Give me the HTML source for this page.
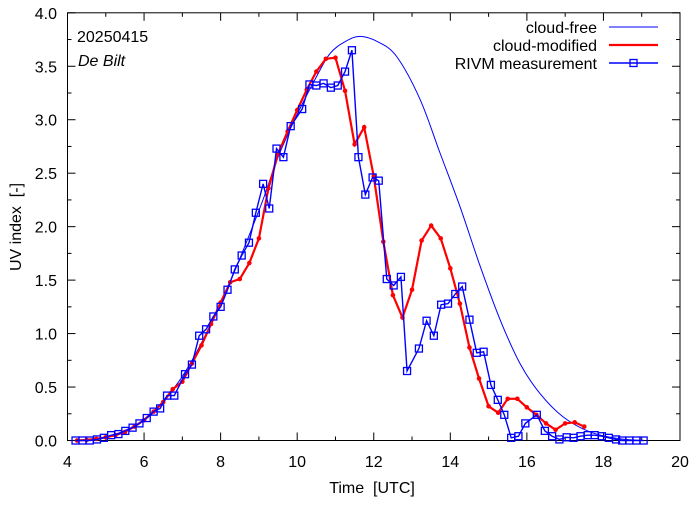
<!DOCTYPE html>
<html><head><meta charset="utf-8"><style>
body{margin:0;background:#fff}
svg text{font-family:"Liberation Sans",sans-serif;font-size:16px;fill:#000}
</style></head><body>
<svg id="c" width="694" height="501"></svg>
<script>
const xTicks=[4,6,8,10,12,14,16,18,20];
const yTicks=[0,0.5,1,1.5,2,2.5,3,3.5,4];
const yTickLabels=["0.0","0.5","1.0","1.5","2.0","2.5","3.0","3.5","4.0"];
const clearT=[4.2,5,6,7,8,9,9.5,10,10.5,10.86,11.25,11.64,12.1,12.6,13.21,13.73,14.25,14.78,15.3,15.82,16.34,16.95,17.65,18.35,19];
const clearV=[0,0.03,0.2,0.6,1.28,2.15,2.65,3.05,3.4,3.62,3.73,3.78,3.73,3.59,3.19,2.69,2.19,1.63,1.13,0.72,0.44,0.22,0.08,0.02,0];
const modT=[4.25,4.5,4.75,5,5.25,5.5,5.75,6,6.25,6.5,6.75,7,7.25,7.5,7.75,8,8.25,8.5,8.75,9,9.25,9.5,9.75,10,10.25,10.5,10.75,11,11.25,11.5,11.75,12,12.25,12.5,12.75,13,13.25,13.5,13.75,14,14.25,14.5,14.75,15,15.25,15.5,15.75,16,16.25,16.5,16.75,17,17.25,17.5];
const modV=[0,0.005,0.015,0.03,0.05,0.08,0.13,0.19,0.27,0.36,0.48,0.55,0.72,0.89,1.09,1.29,1.48,1.51,1.66,1.89,2.36,2.68,2.89,3.09,3.28,3.45,3.57,3.58,3.27,2.77,2.93,2.47,1.86,1.36,1.15,1.41,1.87,2.01,1.89,1.61,1.28,0.87,0.58,0.32,0.26,0.39,0.39,0.31,0.24,0.16,0.10,0.16,0.17,0.13];
const measT=[4.21,4.39,4.58,4.77,4.95,5.14,5.33,5.51,5.70,5.88,6.07,6.25,6.42,6.60,6.79,7.07,7.25,7.44,7.62,7.81,8.00,8.18,8.37,8.55,8.74,8.92,9.11,9.27,9.46,9.64,9.83,10.13,10.32,10.50,10.69,10.88,11.06,11.25,11.43,11.60,11.78,11.97,12.13,12.34,12.52,12.71,12.87,13.18,13.38,13.57,13.76,13.94,14.13,14.31,14.50,14.69,14.87,15.06,15.24,15.41,15.59,15.78,15.96,16.26,16.47,16.66,16.85,17.04,17.22,17.40,17.59,17.77,17.96,18.14,18.33,18.49,18.68,18.86,19.05];
const measV=[0,0,0,0.01,0.025,0.05,0.06,0.09,0.12,0.16,0.21,0.27,0.30,0.42,0.42,0.62,0.71,0.98,1.04,1.16,1.25,1.41,1.60,1.73,1.85,2.13,2.40,2.17,2.73,2.65,2.94,3.10,3.33,3.32,3.34,3.30,3.32,3.45,3.65,2.65,2.30,2.46,2.43,1.51,1.45,1.53,0.65,0.86,1.12,0.98,1.27,1.28,1.37,1.44,1.13,0.82,0.83,0.52,0.38,0.24,0.025,0.04,0.16,0.24,0.09,0.04,0.01,0.03,0.025,0.04,0.05,0.05,0.04,0.025,0.01,0,0,0,0];

const L=67.5,R=680,T=12.8,B=440.5;
const X=t=>L+(t-4)/16*(R-L);
const Y=v=>B-v/4*(B-T);
const svg=document.getElementById('c');
const NS='http://www.w3.org/2000/svg';
function mk(tag,at,parent){const e=document.createElementNS(NS,tag);for(const k in at)e.setAttribute(k,at[k]);(parent||svg).appendChild(e);return e;}
let frame=mk('rect',{x:L,y:T,width:R-L,height:B-T,fill:'none',stroke:'#000','stroke-width':1});


for(let t=4;t<=20;t++){const maj=t%2===0;const len=maj?8:4;
 mk('line',{x1:X(t),x2:X(t),y1:B,y2:B-len,stroke:'#000'});mk('line',{x1:X(t),x2:X(t),y1:T,y2:T+len,stroke:'#000'});}
for(let i=0;i<=16;i++){const v=i*0.25;const maj=i%2===0;const len=maj?8:4;
 mk('line',{x1:L,x2:L+len,y1:Y(v),y2:Y(v),stroke:'#000'});mk('line',{x1:R,x2:R-len,y1:Y(v),y2:Y(v),stroke:'#000'});}
xTicks.forEach(t=>{const e=mk('text',{x:X(t),y:467,'text-anchor':'middle'});e.textContent=t;
 
 });
yTicks.forEach((v,i)=>{const e=mk('text',{x:57,y:Y(v)+6,'text-anchor':'end'});e.textContent=yTickLabels[i];
 
 });
let xl=mk('text',{x:372,y:493,'text-anchor':'middle'});xl.textContent='Time\u00a0\u00a0[UTC]';


let yl=mk('text',{x:0,y:0,'text-anchor':'middle',transform:'translate(21,227) rotate(-90)'});yl.textContent='UV index\u00a0\u00a0[-]';


let d1=mk('text',{x:77,y:42});d1.textContent='20250415';


let d2=mk('text',{x:78,y:66,'font-style':'italic'});d2.textContent='De Bilt';


function spline(pts){let d='M'+pts[0][0]+','+pts[0][1];for(let i=0;i<pts.length-1;i++){const p0=pts[Math.max(0,i-1)],p1=pts[i],p2=pts[i+1],p3=pts[Math.min(pts.length-1,i+2)];
 d+=` C${p1[0]+(p2[0]-p0[0])/6},${p1[1]+(p2[1]-p0[1])/6} ${p2[0]-(p3[0]-p1[0])/6},${p2[1]-(p3[1]-p1[1])/6} ${p2[0]},${p2[1]}`;}return d;}
let cf=mk('path',{d:spline(clearT.map((t,i)=>[X(t),Y(clearV[i])])),fill:'none',stroke:'#0000ff','stroke-width':1});


let cm=mk('polyline',{points:modT.map((t,i)=>X(t)+','+Y(modV[i])).join(' '),fill:'none',stroke:'#ff0000','stroke-width':2.2});


modT.forEach((t,i)=>{const c=mk('circle',{cx:X(t),cy:Y(modV[i]),r:2.3,fill:'#ff0000'});
 
 });
let ml=mk('polyline',{points:measT.map((t,i)=>X(t)+','+Y(measV[i])).join(' '),fill:'none',stroke:'#0000ff','stroke-width':1.4});


measT.forEach((t,i)=>{const s=mk('rect',{x:X(t)-3.5,y:Y(measV[i])-3.5,width:7,height:7,fill:'none',stroke:'#0000ff','stroke-width':1.3});
 
 });
const leg=[['cloud-free','#0000ff',1,false],['cloud-modified','#ff0000',2.2,false],['RIVM measurement','#0000ff',1.4,true]];
leg.forEach((l,i)=>{const y=27+i*18;
 const g=mk('g',{});
 
 
 const tx=mk('text',{x:597,y:y+6,'text-anchor':'end'},g);tx.textContent=l[0];
 mk('line',{x1:609,x2:658,y1:y,y2:y,stroke:l[1],'stroke-width':l[2]},g);
 if(l[3])mk('rect',{x:630,y:y-3.5,width:7,height:7,fill:'none',stroke:l[1],'stroke-width':1.3},g);});
</script>
</body></html>
